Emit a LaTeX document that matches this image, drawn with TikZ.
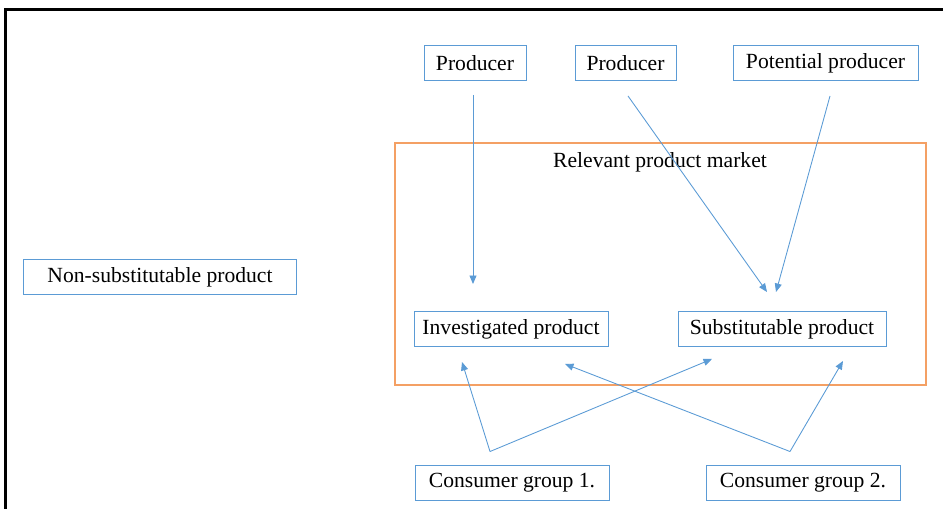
\documentclass[tikz,border=0pt]{standalone}
\usepackage{fontspec}
\setmainfont{Liberation Serif}
\usepackage{tikz}
\usetikzlibrary{arrows.meta,calc}
\definecolor{boxblue}{RGB}{91,155,213}
\definecolor{mktorange}{RGB}{244,160,100}
\tikzset{
   box/.style={draw=boxblue, line width=0.55pt, minimum height=0.7cm, inner sep=2pt,
               font=\fontsize{12.3}{14}\selectfont},
   flow/.style={draw=boxblue, line width=0.5pt, -{Triangle[length=0.17cm,width=0.14cm]}},
   market/.style={draw=mktorange, line width=0.7pt},
   frame/.style={draw=black, line width=1.2pt}
}

\begin{document}
\begin{tikzpicture}[x=0.02cm,y=-0.02cm]
\useasboundingbox (0,0) rectangle (943,509);
\draw[frame] (5.5,509) -- (5.5,9.5) -- (943,9.5);
% market
\draw[market] (395,143) rectangle (926,385);
\node[font=\fontsize{12.3}{14}\selectfont] (mkt) at (660,162) {Relevant product market};
% producers
\node[box, minimum width=2.04cm] (p1) at (475,63) {Producer};
\node[box, minimum width=2.02cm] (p2) at (625.5,63) {Producer};
\node[box, minimum width=3.7cm] (pp) at (825.5,63) {Potential producer};
% products
\node[box, minimum width=5.48cm] (nonsub) at (160,277) {Non-substitutable product};
\node[box, minimum width=3.88cm] (inv) at (511,329) {Investigated product};
\node[box, minimum width=4.16cm] (sub) at (782,329) {Substitutable product};
% consumers
\node[box, minimum width=3.88cm] (cg1) at (512,482.5) {Consumer group 1.};
\node[box, minimum width=3.88cm] (cg2) at (803,482.5) {Consumer group 2.};
\coordinate (j1) at ($(cg1.north)+(-22,-13)$);
\coordinate (j2) at ($(cg2.north)+(-13,-13)$);
% supply side
\draw[flow] ($(p1.south)+(-2,14)$) -- ($(inv.north)+(-38,-27)$);
\draw[flow] ($(p2.south)+(2.5,15)$) -- ($(sub.north)+(-15,-19)$);
\draw[flow] ($(pp.south)+(4.5,15)$) -- ($(sub.north)+(-6,-19)$);
% demand side
\draw[flow] (j1) -- ($(inv.south)+(-49,15)$);
\draw[flow] (j1) -- ($(sub.south)+(-70,12)$);
\draw[flow] (j2) -- ($(inv.south)+(54,17)$);
\draw[flow] (j2) -- ($(sub.south)+(61,14)$);
\end{tikzpicture}
\end{document}
